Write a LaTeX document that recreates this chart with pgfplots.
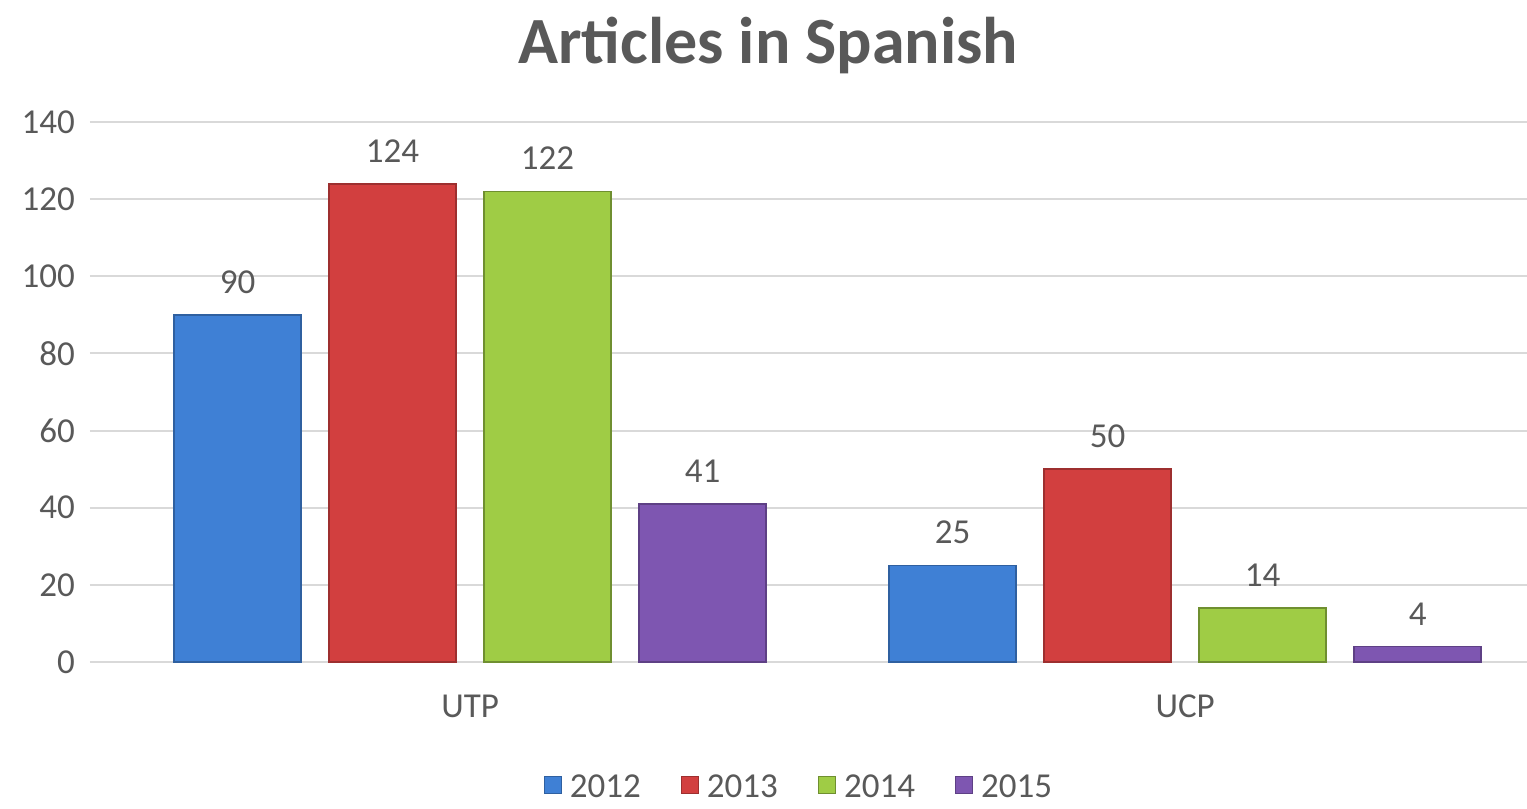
\documentclass[border=0pt]{standalone}
\usepackage{pgfplots}
\pgfplotsset{compat=1.18}
\usepackage{fontspec}
\setmainfont{Carlito}
\definecolor{txt}{HTML}{595959}
\definecolor{gridc}{HTML}{D9D9D9}
\definecolor{cblue}{HTML}{3F80D5}
\definecolor{cred}{HTML}{D23F3F}
\definecolor{cgreen}{HTML}{9FCC45}
\definecolor{cpurple}{HTML}{7E56B1}
\begin{document}
\begin{tikzpicture}
\path[use as bounding box] (-45pt,-73.5pt) rectangle (718.5pt,331pt);
\begin{axis}[
  at={(0,0)}, anchor=south west,
  width=718.5pt, height=270pt, scale only axis,
  ybar=14pt, bar width=63.5pt,
  xmin=-0.5315, xmax=1.478,
  ymin=0, ymax=140,
  ytick={0,20,...,140},
  xtick={0,1}, xticklabels={UTP,UCP},
  ymajorgrids, grid style={gridc, line width=1pt},
  axis line style={draw=none},
  major tick length=0pt,
  tick label style={font=\fontsize{17.5}{20}\selectfont, text=txt},
  /pgf/number format/assume math mode=true,
  xticklabel style={yshift=-13pt},
  yticklabel style={xshift=-4pt},
  nodes near coords,
  every node near coord/.append style={font=\fontsize{17.5}{20}\selectfont, text=txt, yshift=7pt},
  legend style={at={(0.494,-0.232)}, anchor=center, draw=none, legend columns=-1,
    font=\fontsize{17.5}{20}\selectfont, text=txt, inner sep=1pt,
    /tikz/every even column/.append style={column sep=18pt},
    /tikz/every odd column/.append style={column sep=2pt}},
  legend image code/.code={\draw[#1, line width=0.6pt] (0pt,-3pt) rectangle (8.5pt,5.5pt);},
  clip=false,
]
\addplot[fill=cblue, draw=cblue!75!black, line width=0.8pt] coordinates {(0,90) (1,25)};
\addplot[fill=cred, draw=cred!75!black, line width=0.8pt] coordinates {(0,124) (1,50)};
\addplot[fill=cgreen, draw=cgreen!70!black, line width=0.8pt] coordinates {(0,122) (1,14)};
\addplot[fill=cpurple, draw=cpurple!75!black, line width=0.8pt] coordinates {(0,41) (1,4)};
\legend{2012,2013,2014,2015}
\node[font=\fontsize{33}{38}\selectfont\bfseries, text=txt, anchor=center] at (axis description cs:0.472,1.142) {Articles in Spanish};
\end{axis}
\end{tikzpicture}
\end{document}
